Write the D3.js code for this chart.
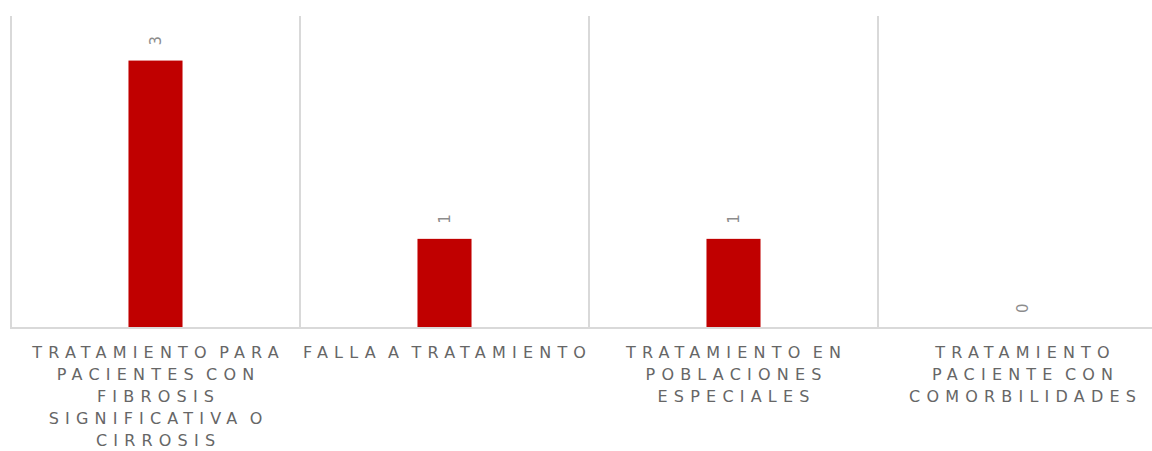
<!DOCTYPE html>
<html>
<head>
<meta charset="utf-8">
<script src="https://cdn.jsdelivr.net/npm/d3@7"></script>
<style>
  html, body { margin: 0; padding: 0; background: #fff; overflow: hidden; }
  svg { display: block; }
</style>
</head>
<body>
<svg id="chart" width="1152" height="451"></svg>
<script>
const categories = [
  "TRATAMIENTO PARA PACIENTES CON FIBROSIS SIGNIFICATIVA O CIRROSIS",
  "FALLA A TRATAMIENTO",
  "TRATAMIENTO EN POBLACIONES ESPECIALES",
  "TRATAMIENTO PACIENTE CON COMORBILIDADES"
];
const categoryLines = [
  ["TRATAMIENTO PARA", "PACIENTES CON", "FIBROSIS", "SIGNIFICATIVA O", "CIRROSIS"],
  ["FALLA A TRATAMIENTO"],
  ["TRATAMIENTO EN", "POBLACIONES", "ESPECIALES"],
  ["TRATAMIENTO", "PACIENTE CON", "COMORBILIDADES"]
];
const values = [3, 1, 1, 0];
const yDomain = [0, 3.5];

(function () {
const svg = d3.select("#chart");
const plotLeft = 11, catW = 289, plotTop = 16, plotBottom = 328;
const x = d3.scaleBand().domain(categories).range([plotLeft, plotLeft + catW * categories.length]).paddingInner(0).paddingOuter(0);
const y = d3.scaleLinear().domain(yDomain).range([plotBottom, plotTop]);
const barW = x.bandwidth() * 0.187;

const gridColor = "#d9d9d9";
const labelFont = "'DejaVu Sans', sans-serif";

// category separators (including left edge)
const sepX = categories.map(c => x(c));
svg.append("g").selectAll("line").data(sepX).join("line")
  .attr("x1", d => d).attr("x2", d => d)
  .attr("y1", y(yDomain[1])).attr("y2", y(0))
  .attr("stroke", gridColor).attr("stroke-width", 2);

// bars
svg.append("g").selectAll("rect").data(values).join("rect")
  .attr("x", (d, i) => x(categories[i]) + x.bandwidth() / 2 - barW / 2)
  .attr("width", barW)
  .attr("y", d => y(d))
  .attr("height", d => y(0) - y(d))
  .attr("fill", "#c00000");

// x axis baseline
svg.append("line")
  .attr("x1", plotLeft - 1).attr("x2", 1152)
  .attr("y1", y(0)).attr("y2", y(0))
  .attr("stroke", gridColor).attr("stroke-width", 2);

// value labels (rotated)
svg.append("g").selectAll("text").data(values).join("text")
  .attr("transform", (d, i) => `translate(${x(categories[i]) + x.bandwidth() / 2},${y(d) - 15}) rotate(-90)`)
  .attr("text-anchor", "start")
  .attr("dominant-baseline", "central")
  .attr("font-family", labelFont)
  .attr("font-size", 15)
  .attr("fill", "#8c8c8c")
  .text(d => d);

// category labels
const ls = 6.2;
const g = svg.append("g");
categoryLines.forEach((lines, i) => {
  const cx = x(categories[i]) + x.bandwidth() / 2 + ls / 2;
  const t = g.append("text")
    .attr("text-anchor", "middle")
    .attr("font-family", labelFont)
    .attr("font-size", 16)
    .attr("letter-spacing", ls)
    .attr("word-spacing", -5)
    .attr("fill", "#666666");
  lines.forEach((ln, j) => {
    t.append("tspan").attr("x", cx).attr("y", 358 + j * 22).text(ln);
  });
});
})();
</script>
</body>
</html>
